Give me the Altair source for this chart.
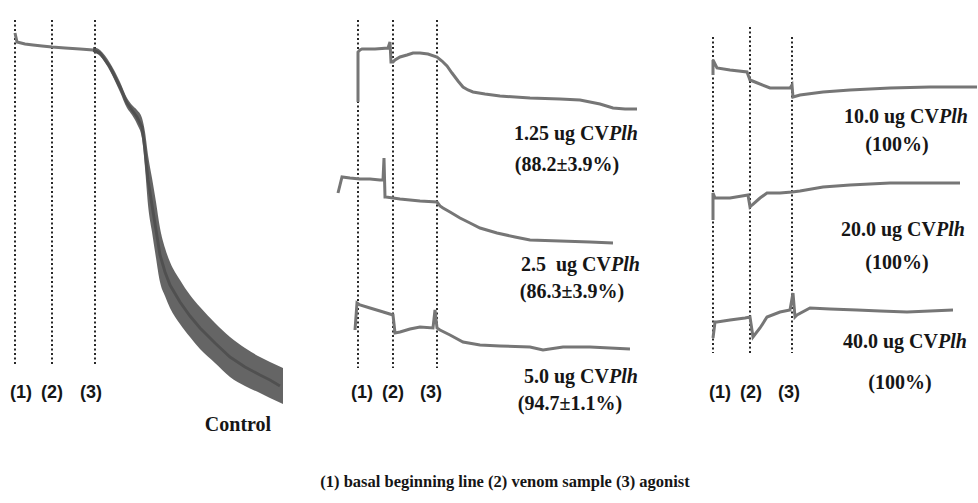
import altair as alt
import pandas as pd

# ---- traces (x: time position, y: light transmission position) ----
ctrl_x = [15, 17, 25, 33, 42, 52, 65, 80, 93, 100, 105, 110, 115, 120, 127, 132, 137, 142, 145, 148,
          152, 156, 160, 165, 170, 180, 190, 200, 215, 230, 245, 260, 270, 280]
ctrl_y = [33, 42, 44, 45, 46, 47, 48, 49, 50, 53, 60, 67, 77, 87, 103, 110, 117, 127, 150, 180,
          205, 230, 255, 272, 285, 302, 316, 328, 343, 357, 367, 375, 380, 386]
# noise band of the control trace (lower / upper edge)
band_x = [93, 100, 110, 120, 127, 132, 137, 142, 145, 148, 152, 156, 160, 165, 170, 180, 190, 200, 215, 230,
          245, 260, 270, 283]
band_lo = [47, 50, 63, 82, 98, 105, 110, 118, 132, 155, 178, 202, 228, 248, 262, 280, 295, 307, 323, 337,
           348, 357, 362, 368]
band_hi = [52, 56, 71, 92, 108, 115, 124, 138, 168, 205, 232, 258, 282, 296, 308, 324, 337, 349, 363, 377,
           386, 393, 398, 404]

t125_x = [358, 358, 360, 362, 375, 388, 390, 391, 393, 395, 400, 407, 413, 420, 428, 437, 442, 447, 452, 458,
          463, 468, 473, 485, 500, 530, 560, 580, 600, 613, 625, 637]
t125_y = [102, 52, 50, 49, 49, 48, 42, 62, 62, 60, 57, 55, 53, 53, 54, 57, 61, 66, 73, 81,
          87, 90, 92, 94, 96, 98, 99, 100, 104, 108, 109, 109]

t25_x = [338, 340, 342, 350, 360, 370, 380, 383, 384, 385, 386, 400, 420, 437, 440, 443, 450, 460, 470, 480,
         497, 515, 530, 560, 590, 613]
t25_y = [193, 185, 177, 178, 179, 179, 180, 180, 158, 197, 197, 199, 201, 202, 206, 208, 212, 218, 223, 228,
         233, 237, 240, 241, 242, 243]

t50_x = [355, 357, 360, 370, 380, 393, 395, 400, 410, 420, 433, 435, 437, 440, 450, 463, 480, 500, 530, 543,
         563, 590, 610, 630]
t50_y = [330, 303, 305, 308, 311, 315, 333, 332, 329, 327, 328, 310, 328, 330, 335, 342, 345, 346, 347, 350,
         347, 347, 348, 349]

t10_x = [713, 713, 717, 730, 747, 750, 755, 770, 790, 792, 793, 800, 823, 850, 890, 930, 977]
t10_y = [75, 60, 68, 70, 72, 80, 82, 88, 88, 85, 97, 95, 92, 90, 88, 87, 87]

t20_x = [713, 713, 715, 717, 730, 748, 750, 752, 760, 767, 780, 792, 800, 823, 850, 890, 930, 960]
t20_y = [220, 193, 198, 198, 198, 195, 207, 205, 198, 193, 193, 192, 191, 187, 185, 183, 183, 183]

t40_x = [713, 715, 717, 730, 745, 750, 753, 760, 767, 780, 790, 793, 795, 797, 810, 830, 857, 880, 907, 930, 953]
t40_y = [338, 322, 322, 320, 318, 317, 337, 328, 317, 312, 310, 293, 317, 315, 308, 309, 310, 311, 312, 311, 310]

# ---- event markers (1) (2) (3) ----
marker_x = [15, 52, 95, 358, 393, 437, 713, 750, 792]
marker_top = [20, 20, 20, 20, 20, 20, 37, 27, 37]
marker_bottom = [365, 365, 365, 368, 368, 368, 353, 353, 353]
event_labels = ["(1)", "(2)", "(3)"] * 3
event_label_x = [21, 52, 91, 362, 393, 431, 720, 751, 789]
event_label_y = 393

# ---- dose labels ----
dose_text = ["1.25 ug CV", "2.5\u00a0 ug CV", "5.0 ug CV", "10.0 ug CV", "20.0 ug CV", "40.0 ug CV"]
dose_italic = ["Plh"] * 6
dose_x = [609, 611, 609, 939, 936, 938]
dose_y = [134, 265, 377, 117, 230, 342]
pct_text = ["(88.2±3.9%)", "(86.3±3.9%)", "(94.7±1.1%)", "(100%)", "(100%)", "(100%)"]
pct_x = [567, 572, 570, 897, 897, 900]
pct_y = [165, 292, 404, 145, 263, 383]

control_label = "Control"
caption = "(1) basal beginning line (2) venom sample (3) agonist"

# ---- tables ----
rows = []
for name, xs, ys in [("ctrl", ctrl_x, ctrl_y), ("t125", t125_x, t125_y), ("t25", t25_x, t25_y),
                     ("t50", t50_x, t50_y), ("t10", t10_x, t10_y), ("t20", t20_x, t20_y),
                     ("t40", t40_x, t40_y)]:
    for i, (a, b) in enumerate(zip(xs, ys)):
        rows.append({"trace": name, "i": i, "x": a, "y": b})
traces = pd.DataFrame(rows)
band = pd.DataFrame({"x": band_x, "lo": band_lo, "hi": band_hi})
markers = pd.DataFrame({"x": marker_x, "top": marker_top, "bottom": marker_bottom})
evlab = pd.DataFrame({"x": event_label_x, "y": [event_label_y] * 9, "t": event_labels})
dose = pd.DataFrame({"x": dose_x, "y": dose_y, "a": dose_text, "b": dose_italic})
pct = pd.DataFrame({"x": pct_x, "y": pct_y, "t": pct_text})
ctrl_lab = pd.DataFrame({"x": [238], "y": [425], "t": [control_label]})
cap = pd.DataFrame({"x": [505], "y": [482], "t": [caption]})

X = lambda f: alt.X(f, type="quantitative", scale=alt.Scale(domain=[0, 978]), axis=None)
Y = lambda f: alt.Y(f, type="quantitative", scale=alt.Scale(domain=[0, 503], reverse=True), axis=None)

SERIF = "Liberation Serif"
INK = "#161616"

band_layer = alt.Chart(band).mark_area(color="#4a4a4a", opacity=0.85, interpolate="monotone").encode(
    x=X("x"), y=Y("lo"), y2="hi")

trace_layer = alt.Chart(traces).mark_line(color="#767676", strokeWidth=3).encode(
    x=X("x"), y=Y("y"), detail="trace:N", order="i:Q")

marker_layer = alt.Chart(markers).mark_rule(color="#111111", strokeWidth=1.8, strokeDash=[2, 2.5]).encode(
    x=X("x"), y=Y("top"), y2="bottom")

evlab_layer = alt.Chart(evlab).mark_text(font="Liberation Sans", fontSize=18, fontWeight="bold", color=INK,
                                         align="center", baseline="middle").encode(
    x=X("x"), y=Y("y"), text="t:N")

dose_a = alt.Chart(dose).mark_text(font=SERIF, fontSize=20, fontWeight="bold", color=INK,
                                   align="right", baseline="middle").encode(
    x=X("x"), y=Y("y"), text="a:N")
dose_b = alt.Chart(dose).mark_text(font=SERIF, fontSize=20, fontWeight="bold", fontStyle="italic",
                                   color=INK, align="left", baseline="middle").encode(
    x=X("x"), y=Y("y"), text="b:N")
pct_layer = alt.Chart(pct).mark_text(font=SERIF, fontSize=20, fontWeight="bold", color=INK,
                                     align="center", baseline="middle").encode(
    x=X("x"), y=Y("y"), text="t:N")
ctrl_layer = alt.Chart(ctrl_lab).mark_text(font=SERIF, fontSize=20, fontWeight="bold", color=INK,
                                           align="center", baseline="middle").encode(
    x=X("x"), y=Y("y"), text="t:N")
cap_layer = alt.Chart(cap).mark_text(font=SERIF, fontSize=16.5, fontWeight="bold", color=INK,
                                     align="center", baseline="middle").encode(
    x=X("x"), y=Y("y"), text="t:N")

chart = alt.layer(marker_layer, trace_layer, band_layer, evlab_layer, dose_a, dose_b, pct_layer,
                  ctrl_layer, cap_layer).properties(
    width=978, height=503, padding=0, autosize=alt.AutoSizeParams(type="none"), background="white"
).configure_view(stroke=None)

chart.save("out.html", embed_options={"renderer": "svg", "actions": False})
